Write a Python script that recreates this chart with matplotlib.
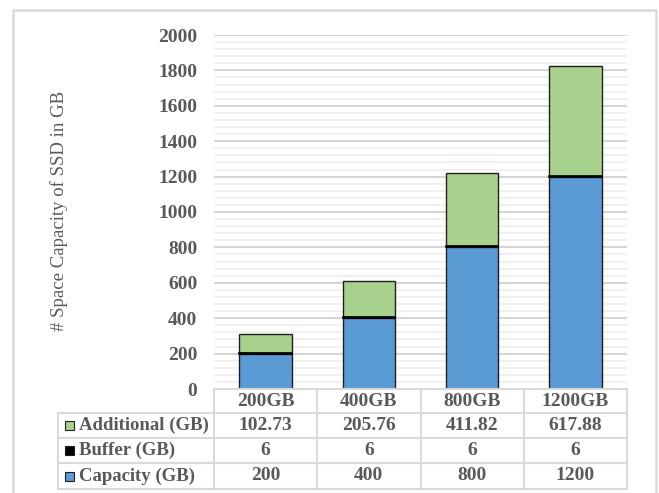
import matplotlib
matplotlib.use("Agg")
import matplotlib.pyplot as plt
from matplotlib.lines import Line2D
from matplotlib.patches import Rectangle
import numpy as np

# Data
categories = ["200GB", "400GB", "800GB", "1200GB"]
capacity = [200, 400, 800, 1200]
buffer = [6, 6, 6, 6]
additional = [102.73, 205.76, 411.82, 617.88]

series_names = ["Additional (GB)", "Buffer (GB)", "Capacity (GB)"]
table_text = [
    ["102.73", "205.76", "411.82", "617.88"],
    ["6", "6", "6", "6"],
    ["200", "400", "800", "1200"],
]

y_ticks = list(range(0, 2001, 200))
y_label = "# Space Capacity of SSD in GB"

BLUE = "#5b9bd5"
GREEN = "#a9d18e"
BLACK = "#000000"
EDGE = "#1f1f1f"
TEXT = "#595959"
GRID_MAJOR = "#d4d4d4"
GRID_MINOR = "#ececec"
TABLE_LINE = "#d9d9d9"

W, H = 659, 493
fig = plt.figure(figsize=(W / 100, H / 100), dpi=100)
fig.patch.set_facecolor("white")

serif = ["Liberation Serif", "DejaVu Serif"]


def fx(x):
    return x / W


def fy(y):
    return 1 - y / H


# plot area in pixel coords
L, R, T, B = 214, 627, 35, 389
ax = fig.add_axes([fx(L), fy(B), fx(R) - fx(L), fy(T) - fy(B)])
ax.set_xlim(-0.5, len(categories) - 0.5)
ax.set_ylim(0, 2000)

# gridlines
for v in np.arange(0, 2001, 40):
    if v % 200 == 0:
        continue
    ax.axhline(v, color=GRID_MINOR, lw=1.1, zorder=0)
for v in y_ticks[1:]:
    ax.axhline(v, color=GRID_MAJOR, lw=1.4, zorder=0.5)

x = np.arange(len(categories))
bw = 0.51
cap = np.array(capacity, dtype=float)
buf = np.array(buffer, dtype=float)
add = np.array(additional, dtype=float)
ax.bar(x, cap, bw, color=BLUE, edgecolor=EDGE, linewidth=1.0, zorder=2)
ax.bar(x, add, bw, bottom=cap + buf, color=GREEN, edgecolor=EDGE, linewidth=1.0, zorder=2)
ax.bar(x, buf, bw, bottom=cap, color=BLACK, edgecolor=BLACK, linewidth=1.2, zorder=3)

ax.set_yticks(y_ticks)
ax.set_yticklabels([str(t) for t in y_ticks])
ax.set_xticks([])
ax.tick_params(axis="y", length=0, pad=12, labelcolor=TEXT, labelsize=14)
for lab in ax.get_yticklabels():
    lab.set_fontfamily(serif)
    lab.set_fontweight("bold")
for s in ax.spines.values():
    s.set_visible(False)

fig.text(fx(59), fy(211), y_label, rotation=90, ha="center", va="center",
         fontsize=13.5, color=TEXT, family=serif)

# data table below the plot
col_edges = np.linspace(L, R, len(categories) + 1)
row_edges = [389, 413, 438, 463, 489]
tbl_left = 58


def hline(y, x0, x1):
    fig.add_artist(Line2D([fx(x0), fx(x1)], [fy(y), fy(y)], color=TABLE_LINE, lw=1.5))


def vline(x, y0, y1):
    fig.add_artist(Line2D([fx(x), fx(x)], [fy(y0), fy(y1)], color=TABLE_LINE, lw=1.5))


hline(row_edges[0], L, R)
for y in row_edges[1:]:
    hline(y, tbl_left, R)
for xe in col_edges:
    vline(xe, row_edges[0], row_edges[-1])
vline(tbl_left, row_edges[1], row_edges[-1])

for i, c in enumerate(categories):
    xc = (col_edges[i] + col_edges[i + 1]) / 2
    fig.text(fx(xc), fy((row_edges[0] + row_edges[1]) / 2), c, ha="center", va="center",
             fontsize=14, fontweight="bold", color=TEXT, family=serif)
    for r in range(3):
        fig.text(fx(xc), fy((row_edges[r + 1] + row_edges[r + 2]) / 2), table_text[r][i],
                 ha="center", va="center", fontsize=14, fontweight="bold", color=TEXT,
                 family=serif)

key_colors = [GREEN, BLACK, BLUE]
for r, (name, kc) in enumerate(zip(series_names, key_colors)):
    yc = (row_edges[r + 1] + row_edges[r + 2]) / 2
    fig.add_artist(Rectangle((fx(65), fy(yc + 4.5)), 9 / W, 9 / H, facecolor=kc,
                             edgecolor=EDGE, lw=0.8))
    fig.text(fx(79), fy(yc), name, ha="left", va="center", fontsize=13.5,
             fontweight="bold", color=TEXT, family=serif)

# chart-area border
fig.add_artist(Line2D([fx(13), fx(13), fx(656), fx(656)], [0, fy(10), fy(10), 0],
                      color="#d9d9d9", lw=1.8))

fig.savefig("out.png", dpi=100, facecolor="white")
